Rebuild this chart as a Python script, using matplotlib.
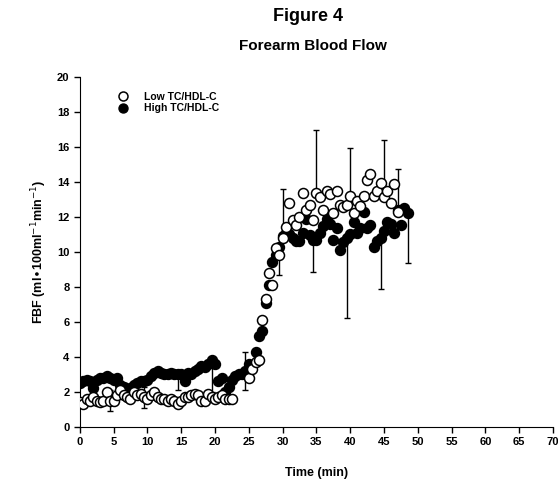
import numpy as np
import matplotlib
matplotlib.use("Agg")
import matplotlib.pyplot as plt

plt.rcParams["font.family"] = ["Liberation Sans", "DejaVu Sans"]

# Low TC/HDL-C (open circles), time in min
low_t_early = np.arange(0, 23.0, 0.5)
low_early = [1.4, 1.3, 1.6, 1.5, 1.7, 1.5, 1.4, 1.5, 2.0, 1.5,
             1.5, 1.8, 2.1, 1.8, 1.7, 1.6, 2.0, 1.8, 1.9, 1.7,
             1.6, 1.8, 2.0, 1.7, 1.6, 1.6, 1.5, 1.6, 1.5, 1.3,
             1.5, 1.7, 1.7, 1.8, 1.9, 1.8, 1.5, 1.5, 1.9, 1.7,
             1.6, 1.7, 1.8, 1.6, 1.6, 1.6]
low_t_late = np.arange(25.0, 47.5, 0.5)
low_late = [2.8, 3.3, 3.7, 3.8, 6.1, 7.3, 8.8, 8.1, 10.2, 9.8,
            10.8, 11.4, 12.8, 11.85, 11.56, 12.0, 13.37, 12.4, 12.7, 11.85,
            13.37, 13.15, 12.4, 13.47, 13.3, 12.2, 13.47, 12.7, 12.55, 12.7,
            13.2, 12.2, 12.9, 12.6, 13.2, 14.1, 14.48, 13.2, 13.5, 13.95,
            13.15, 13.5, 12.8, 13.9, 12.3]
low_t = np.concatenate([low_t_early, low_t_late])
low = np.array(low_early + low_late)

# High TC/HDL-C (filled circles)
high_t = np.arange(0, 49.0, 0.5)
high = np.array([
    2.5, 2.6, 2.7, 2.6, 2.2, 2.7, 2.8, 2.8, 2.9, 2.8,
    2.7, 2.8, 2.4, 2.3, 2.1, 2.2, 2.4, 2.5, 2.6, 2.6,
    2.7, 2.9, 3.1, 3.2, 3.1, 3.0, 3.0, 3.1, 3.0, 3.0,
    3.0, 2.6, 3.1, 3.0, 3.2, 3.3, 3.5, 3.4, 3.6, 3.8,
    3.6, 2.6, 2.8, 2.0, 2.3, 2.7, 2.9, 3.0, 3.0, 3.2,
    3.6, 3.5, 4.3, 5.2, 5.5, 7.1, 8.1, 9.45, 9.84, 10.3,
    10.9, 11.1, 11.0, 10.8, 10.6, 10.6, 11.1, 11.9, 10.95, 10.7,
    10.7, 11.1, 11.5, 11.9, 11.6, 10.7, 11.35, 10.1, 10.55, 10.8,
    11.0, 11.7, 11.1, 11.35, 12.3, 11.35, 11.55, 10.3, 10.6, 10.8,
    11.2, 11.7, 11.6, 11.1, 12.4, 11.55, 12.5, 12.2])

# error bars (SD): time, lower part, upper part
low_err_t = [4.5, 9.5, 30.0, 35.0, 40.0, 45.0, 47.0]
low_err_lo = [0.6, 0.6, 0, 0, 0, 0, 0]
low_err_hi = [0.6, 0.6, 2.8, 3.6, 2.75, 3.25, 2.45]
high_err_t = [14.5, 19.5, 24.5, 29.5, 34.5, 39.5, 44.5, 48.5]
high_err_lo = [0.9, 1.8, 1.1, 1.6, 1.85, 4.6, 2.9, 2.85]
high_err_hi = [0, 0, 1.1, 0, 0, 0, 0, 0]

fig = plt.figure(figsize=(5.58, 4.84), dpi=100)
ax = fig.add_axes([0.143, 0.118, 0.848, 0.723])

# error bars
low_idx = [int(np.where(np.isclose(low_t, t))[0][0]) for t in low_err_t]
high_idx = [int(np.where(np.isclose(high_t, t))[0][0]) for t in high_err_t]
ax.errorbar(low_t[low_idx], low[low_idx], yerr=[low_err_lo, low_err_hi],
            fmt="none", ecolor="black", elinewidth=1, capsize=2.5, zorder=1)
ax.errorbar(high_t[high_idx], high[high_idx], yerr=[high_err_lo, high_err_hi],
            fmt="none", ecolor="black", elinewidth=1, capsize=2.5, zorder=1)

ax.plot(high_t, high, "o", color="black", markersize=7.2,
        label="High TC/HDL-C", zorder=2)
ax.plot(low_t, low, "o", markerfacecolor="white", markeredgecolor="black",
        markersize=7.2, markeredgewidth=1.1, label="Low TC/HDL-C", zorder=3)

ax.set_xlim(0, 70)
ax.set_ylim(0, 20)
ax.set_xticks(np.arange(0, 71, 5))
ax.set_yticks(np.arange(0, 21, 2))
ax.tick_params(direction="out", length=4, width=1, labelsize=8)
for lab in ax.get_xticklabels() + ax.get_yticklabels():
    lab.set_fontweight("bold")
ax.spines["top"].set_visible(False)
ax.spines["right"].set_visible(False)

ax.set_xlabel("Time (min)", fontsize=9, fontweight="bold", labelpad=14)
ax.set_ylabel(r"FBF (ml$\bullet$100ml$^{-1}$min$^{-1}$)", fontsize=9,
              fontweight="bold", labelpad=6)

handles, labels = ax.get_legend_handles_labels()
ax.legend(handles[::-1], labels[::-1], loc="upper left",
          bbox_to_anchor=(0.06, 0.97), frameon=False, markerscale=0.9,
          prop={"size": 7.5, "weight": "bold"},
          handletextpad=1.0, labelspacing=0.15, borderaxespad=0)

fig.text(0.552, 0.965, "Figure 4", ha="center", va="center",
         fontsize=13, fontweight="bold")
fig.text(0.56, 0.905, "Forearm Blood Flow", ha="center", va="center",
         fontsize=11, fontweight="bold")

plt.savefig("out.png", dpi=100)
